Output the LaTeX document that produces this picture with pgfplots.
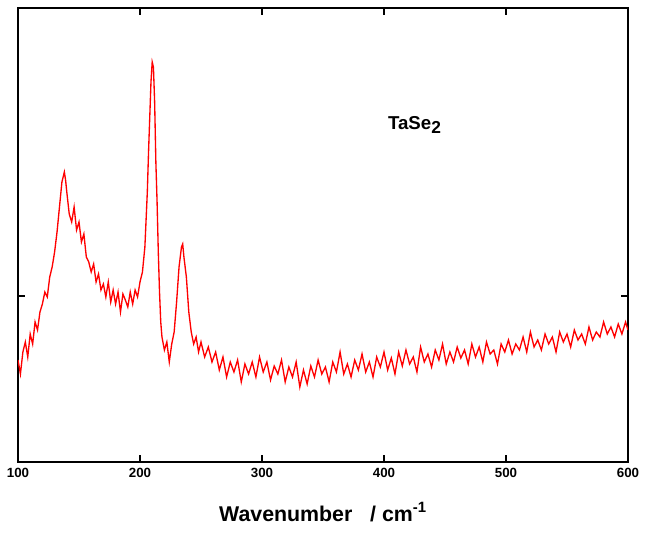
\documentclass[border=0pt]{standalone}
\usepackage{pgfplots}
\pgfplotsset{compat=1.18}
\usepackage{fontspec}
\setmainfont{Liberation Sans}
\begin{document}
\begin{tikzpicture}
\path (-13.5pt,-56.25pt) rectangle (472.5pt,346.5pt);
\begin{axis}[scale only axis, width=457.5pt, height=340.5pt,
 xmin=100, xmax=600, ymin=0, ymax=454,
 xtick={100,200,...,600}, ytick={166}, yticklabels={},
 tick align=inside, major tick length=5pt,
 every tick/.style={black, line width=0.8pt},
 axis line style={line width=0.8pt},
 xtick pos=both, ytick pos=both,
 /pgf/number format/assume math mode=true,
 xticklabel style={font=\bfseries\fontsize{10}{11}\selectfont, yshift=-1pt},
 xlabel={\textbf{Wavenumber \ \ / cm\textsuperscript{-1}}},
 xlabel style={font=\fontsize{16}{18}\selectfont, yshift=-12pt}]
\addplot[red, line width=1pt] coordinates {
(100,102)(102,88)(104,110)(106,120)(108,105)(110,128)(112,118)(114,140)(116,132)(118,150)(120,158)(122,170)(124,165)(126,185)(128,195)(130,210)(132,230)(134,255)(136,280)(138,290)(139,282)(140,270)(142,248)(144,240)(146,255)(148,232)(150,240)(152,220)(154,228)(156,205)(158,200)(160,190)(162,198)(164,180)(166,188)(168,172)(170,178)(172,165)(174,180)(176,160)(178,172)(180,158)(182,170)(184,150)(186,168)(188,162)(190,155)(192,170)(194,158)(196,172)(198,165)(200,180)(202,190)(204,215)(206,270)(207,310)(208,345)(209,380)(210,400)(211,395)(212,360)(213,300)(214,260)(215,210)(216,170)(217,140)(218,125)(220,112)(222,120)(224,100)(226,118)(228,130)(230,160)(232,195)(234,215)(235,218)(236,205)(238,185)(240,150)(242,130)(244,118)(246,125)(248,110)(250,120)(253,105)(256,115)(259,100)(262,110)(265,92)(268,105)(271,85)(274,100)(277,90)(280,102)(283,80)(286,98)(289,88)(292,100)(295,85)(298,105)(301,90)(304,100)(307,82)(310,96)(313,88)(316,102)(319,80)(322,95)(325,85)(328,100)(331,75)(334,92)(337,78)(340,96)(343,85)(346,102)(349,88)(352,95)(355,80)(358,100)(361,90)(364,110)(367,88)(370,98)(373,85)(376,102)(379,92)(382,108)(385,90)(388,100)(391,85)(394,105)(397,95)(400,110)(403,92)(406,104)(409,88)(412,110)(415,96)(418,112)(421,98)(424,105)(427,90)(430,115)(433,100)(436,108)(439,95)(442,112)(445,102)(448,118)(451,98)(454,110)(457,100)(460,115)(463,104)(466,112)(469,98)(472,118)(475,105)(478,115)(481,100)(484,120)(487,108)(490,112)(493,98)(496,118)(499,110)(502,122)(505,108)(508,118)(511,112)(514,125)(517,110)(520,130)(523,115)(526,122)(529,112)(532,128)(535,118)(538,125)(541,110)(544,130)(547,120)(550,128)(553,115)(556,132)(559,122)(562,128)(565,118)(568,135)(571,122)(574,130)(577,125)(580,140)(583,128)(586,135)(589,125)(592,138)(595,128)(598,140)(600,132)
};
\node[font=\bfseries\fontsize{14}{16}\selectfont] at (axis cs:425,337) {TaSe\raisebox{-0.35ex}{\fontsize{13}{14}\selectfont 2}};
\end{axis}
\end{tikzpicture}
\end{document}
